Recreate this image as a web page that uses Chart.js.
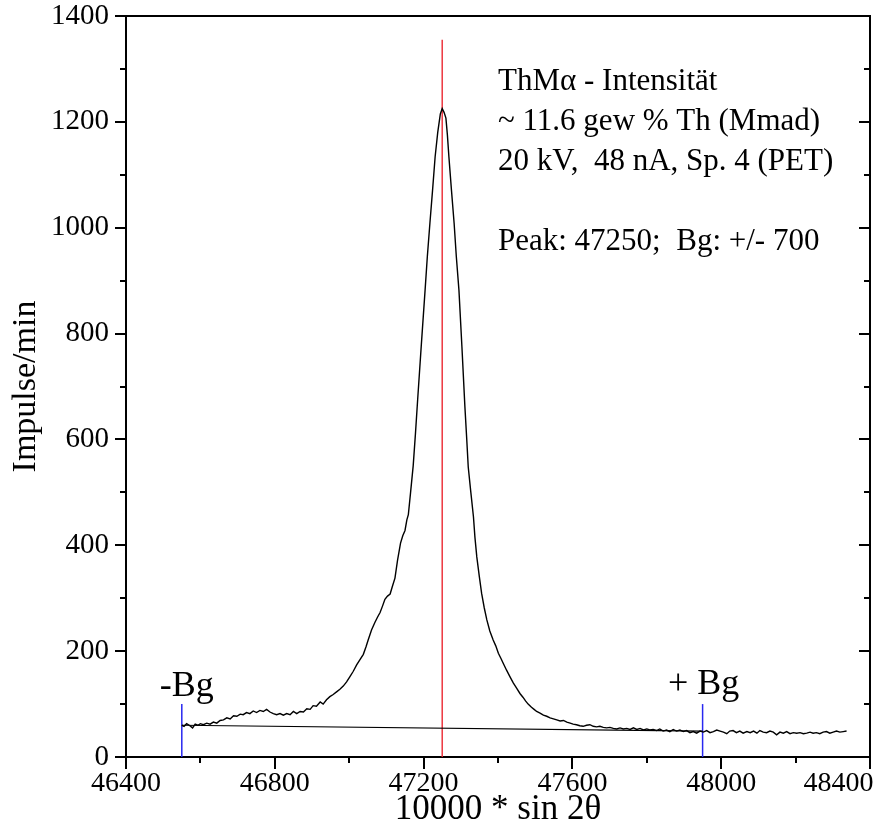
<!DOCTYPE html>
<html>
<head>
<meta charset="utf-8">
<script src="https://cdn.jsdelivr.net/npm/chart.js@4.4.1/dist/chart.umd.min.js"></script>
<style>
  body { margin: 0; background: #fff; }
  canvas { display: block; }
</style>
</head>
<body>
<canvas id="chart_thMalpha" width="878" height="837"></canvas>
<script>
// measured spectrum, ThMa line (10000 * sin 2theta vs. counts per minute)
var specX = [
  46550, 46556, 46563, 46570, 46579, 46586, 46593, 46600, 46608, 46617, 46626, 46635, 46644, 46653,
  46662, 46671, 46680, 46689, 46698, 46707, 46715, 46724, 46733, 46742, 46751, 46760, 46769, 46778,
  46787, 46796, 46805, 46814, 46823, 46832, 46841, 46850, 46859, 46868, 46877, 46886, 46895, 46903,
  46912, 46922, 46930, 46939, 46948, 46957, 46966, 46975, 46984, 46993, 47002, 47011, 47020, 47029,
  47038, 47045, 47051, 47060, 47069, 47076, 47083, 47090, 47096, 47103, 47110, 47116, 47123, 47130,
  47138, 47144, 47150, 47155, 47159, 47165, 47172, 47178, 47184, 47194, 47204, 47210, 47217, 47224,
  47231, 47238, 47245, 47250, 47255, 47260, 47264, 47268, 47275, 47282, 47288, 47295, 47303, 47311,
  47316, 47320, 47327, 47334, 47338, 47343, 47350, 47356, 47363, 47370, 47378, 47387, 47394, 47401,
  47408, 47414, 47423, 47432, 47441, 47450, 47459, 47467, 47474, 47481, 47490, 47497, 47504, 47513,
  47522, 47531, 47540, 47549, 47558, 47567, 47576, 47585, 47594, 47602, 47611, 47620, 47629, 47638,
  47647, 47656, 47665, 47674, 47683, 47692, 47701, 47710, 47719, 47728, 47737, 47746, 47755, 47764,
  47773, 47782, 47791, 47800, 47808, 47817, 47826, 47835, 47844, 47853, 47862, 47871, 47880, 47889,
  47898, 47907, 47916, 47925, 47934, 47943, 47952, 47961, 47970, 47979, 47988, 47997, 48006, 48015,
  48023, 48032, 48041, 48050, 48059, 48069, 48078, 48087, 48096, 48104, 48113, 48122, 48131, 48140,
  48149, 48158, 48167, 48176, 48185, 48194, 48203, 48212, 48221, 48230, 48239, 48247, 48256, 48265,
  48274, 48283, 48292, 48301, 48310, 48319, 48328, 48337
];
var specY = [
  60, 58, 63, 60, 55, 62, 60, 63, 61, 64, 62, 66, 64, 69,
  70, 74, 72, 78, 77, 81, 80, 84, 82, 87, 84, 88, 86, 90,
  85, 82, 80, 82, 79, 82, 80, 86, 82, 86, 85, 91, 90, 97,
  96, 104, 100, 108, 114, 118, 123, 128, 134, 142, 152, 162, 174, 184,
  194, 208, 221, 240, 254, 264, 273, 286, 298, 304, 308, 322, 338, 372,
  404, 418, 428, 448, 458, 500, 550, 610, 675, 780, 882, 945, 1009, 1070,
  1134, 1180, 1215, 1225, 1218, 1207, 1175, 1134, 1070, 1009, 945, 882, 775, 662,
  600, 548, 500, 454, 415, 378, 340, 309, 282, 259, 238, 221, 210, 196,
  186, 177, 164, 152, 140, 130, 120, 113, 106, 100, 94, 90, 86, 83,
  79, 77, 74, 72, 70, 68, 69, 66, 64, 62, 61, 59, 58, 60,
  61, 58, 57, 58, 56, 55, 56, 54, 53, 55, 53, 54, 52, 55,
  52, 54, 51, 53, 51, 52, 50, 53, 49, 51, 48, 52, 49, 51,
  48, 50, 46, 48, 45, 49, 47, 50, 46, 48, 51, 49, 47, 44,
  49, 50, 46, 49, 45, 48, 46, 49, 45, 50, 47, 46, 49, 47,
  42, 47, 45, 48, 44, 46, 45, 46, 44, 45, 47, 45, 46, 44,
  47, 48, 45, 47, 49, 47, 48, 49
];

// background line between the two Bg positions
var bgPosX = [46550, 47950];
var bgLineY = [60, 49];
var bgMarkTop = 100;

// peak position
var peakPosX = 47250;
var peakMarkTop = 1355;

var xTicksMin = 46400, xTicksMax = 48400;
var yTicksMin = 0, yTicksMax = 1400;

var noteLines = [
  'ThM\u03b1 - Intensit\u00e4t',
  '~ 11.6 gew % Th (Mmad)',
  '20 kV,  48 nA, Sp. 4 (PET)',
  '',
  'Peak: 47250;  Bg: +/- 700'
];
var bgLabels = ['-Bg', '+ Bg'];

var SERIF = "'Liberation Serif', 'Times New Roman', serif";

function seg(x0, y0, x1, y1) {
  return [{x: x0, y: y0}, {x: x1, y: y1}];
}

var frameAndNotes = {
  id: 'frameAndNotes',
  afterDraw: function (chart) {
    var ctx = chart.ctx, a = chart.chartArea;
    var xs = chart.scales.x, ys = chart.scales.y;
    ctx.save();
    ctx.strokeStyle = '#000';
    ctx.lineWidth = 2;
    ctx.beginPath();
    ctx.moveTo(a.left - 1, a.top);
    ctx.lineTo(a.right, a.top);
    ctx.lineTo(a.right, a.bottom + 1);
    // y ticks, left outward and right inward
    for (var v = yTicksMin; v <= yTicksMax; v += 100) {
      var py = Math.round(ys.getPixelForValue(v));
      var len = v % 200 === 0 ? 11 : 6;
      ctx.moveTo(a.left - len, py);
      ctx.lineTo(a.left, py);
      ctx.moveTo(a.right - len, py);
      ctx.lineTo(a.right, py);
    }
    // x ticks, outward
    for (var w = xTicksMin; w <= xTicksMax; w += 200) {
      var px = Math.round(xs.getPixelForValue(w));
      var l2 = w % 400 === 0 ? 12 : 6;
      ctx.moveTo(px, a.bottom);
      ctx.lineTo(px, a.bottom + l2);
    }
    ctx.stroke();

    // text block
    ctx.fillStyle = '#000';
    ctx.font = '31px ' + SERIF;
    ctx.textAlign = 'left';
    ctx.textBaseline = 'middle';
    var tx = xs.getPixelForValue(47400);
    var ty = ys.getPixelForValue(1276);
    for (var i = 0; i < noteLines.length; i++) {
      ctx.fillText(noteLines[i], tx, ty + i * 40);
    }

    // Bg labels above the markers
    ctx.font = '36px ' + SERIF;
    ctx.textAlign = 'center';
    ctx.fillText(bgLabels[0], xs.getPixelForValue(bgPosX[0]) + 5, ys.getPixelForValue(134));
    ctx.fillText(bgLabels[1], xs.getPixelForValue(bgPosX[1]) + 1, ys.getPixelForValue(136));
    ctx.restore();
  }
};

var chart_thMalpha = new Chart(document.getElementById('chart_thMalpha'), {
  type: 'scatter',
  data: {
    datasets: [
      {
        label: 'Spektrum',
        data: specX.map(function (x, i) { return {x: x, y: specY[i]}; }),
        showLine: true,
        borderColor: '#000',
        borderWidth: 1.4,
        pointRadius: 0,
        tension: 0
      },
      {
        label: 'Untergrund',
        data: seg(bgPosX[0], bgLineY[0], bgPosX[1], bgLineY[1]),
        showLine: true,
        borderColor: '#000',
        borderWidth: 1.2,
        pointRadius: 0
      },
      {
        label: 'Peak',
        data: seg(peakPosX, 0, peakPosX, peakMarkTop),
        showLine: true,
        borderColor: 'rgb(235,40,50)',
        borderWidth: 1.4,
        pointRadius: 0
      },
      {
        label: '-Bg',
        data: seg(bgPosX[0], 0, bgPosX[0], bgMarkTop),
        showLine: true,
        borderColor: 'rgb(40,40,240)',
        borderWidth: 1.5,
        pointRadius: 0
      },
      {
        label: '+Bg',
        data: seg(bgPosX[1], 0, bgPosX[1], bgMarkTop),
        showLine: true,
        borderColor: 'rgb(40,40,240)',
        borderWidth: 1.5,
        pointRadius: 0
      }
    ]
  },
  options: {
    animation: false,
    responsive: false,
    layout: { padding: { top: 16, right: 8, left: 0, bottom: 0 } },
    plugins: {
      legend: { display: false },
      tooltip: { enabled: false }
    },
    scales: {
      x: {
        type: 'linear',
        min: xTicksMin,
        max: xTicksMax,
        grid: { display: false, drawTicks: false },
        border: { display: true, color: '#000', width: 2 },
        ticks: {
          stepSize: 400,
          autoSkip: false,
          maxRotation: 0,
          padding: 10,
          color: '#000',
          font: { family: SERIF, size: 28 },
          callback: function (v) {
            // last label sits left of the corner, as in the original
            return v === xTicksMax ? String(v) + '         ' : String(v);
          }
        },
        title: {
          display: true,
          text: '10000 * sin 2\u03b8',
          color: '#000',
          font: { family: SERIF, size: 35 },
          padding: { top: 0, bottom: 6 }
        },
        afterFit: function (s) { s.height = 80; s.paddingLeft = 0; s.paddingRight = 0; }
      },
      y: {
        type: 'linear',
        min: yTicksMin,
        max: yTicksMax,
        grid: { display: false, drawTicks: false },
        border: { display: true, color: '#000', width: 2 },
        ticks: {
          stepSize: 200,
          padding: 17,
          color: '#000',
          font: { family: SERIF, size: 29 },
          callback: function (v) { return String(v); }
        },
        title: {
          display: true,
          text: 'Impulse/min',
          color: '#000',
          font: { family: SERIF, size: 34 },
          padding: { top: 6, bottom: 0 }
        },
        afterFit: function (s) { s.width = 126; s.paddingTop = 0; s.paddingBottom = 0; }
      }
    }
  },
  plugins: [frameAndNotes, {
    id: 'whiteBg',
    beforeDraw: function (chart) {
      var ctx = chart.ctx;
      ctx.save();
      ctx.fillStyle = '#fff';
      ctx.fillRect(0, 0, chart.width, chart.height);
      ctx.restore();
    }
  }]
});
</script>
</body>
</html>
